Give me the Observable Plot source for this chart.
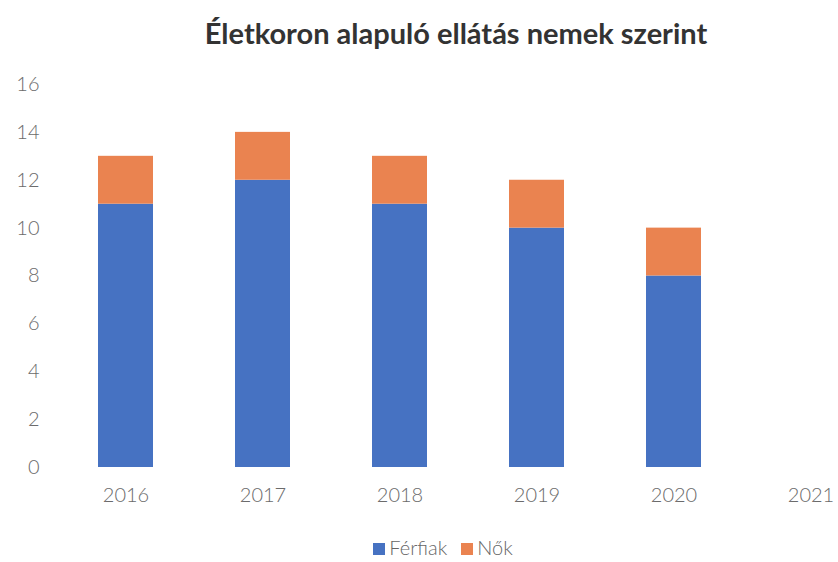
<!DOCTYPE html>
<html>
<head>
<meta charset="utf-8">
<script src="https://cdn.jsdelivr.net/npm/d3@7"></script>
<script src="https://cdn.jsdelivr.net/npm/@observablehq/plot@0.6"></script>
<style>
  html, body { margin: 0; padding: 0; background: #fff; width: 838px; height: 562px; overflow: hidden; }
  #title { position: absolute; left: 0; top: 0; width: 912px; height: 60px; text-align: center;
    font-family: Lato, "Open Sans", sans-serif; font-weight: bold; font-size: 29px; color: #333;
    line-height: 60px; padding-top: 3px; box-sizing: border-box; }
  #chart { position: absolute; left: 0; top: 60px; }
  #legend { position: absolute; left: 0; top: 535px; width: 886px; text-align: center;
    font-family: Lato, "Open Sans", sans-serif; font-weight: 300; font-size: 20px; color: #666; }
  .sw { display: inline-block; width: 12px; height: 12px; margin-right: 4px; vertical-align: 0px; }
  .item { margin: 0 7px; }
</style>
</head>
<body>
<div id="title">Életkoron alapuló ellátás nemek szerint</div>
<div id="chart"></div>
<div id="legend"></div>
<script>
const years = ["2016", "2017", "2018", "2019", "2020", "2021"];
const series = ["Férfiak", "Nők"];
const ferfiak = [11, 12, 11, 10, 8, null];
const nok = [2, 2, 2, 2, 2, null];
const yTicks = [0, 2, 4, 6, 8, 10, 12, 14, 16];
const colors = ["#4672C2", "#EA8350"];

const rows = [];
years.forEach((y, i) => { if (ferfiak[i] != null) rows.push({year: y, series: series[0], value: ferfiak[i]}); });
years.forEach((y, i) => { if (nok[i] != null) rows.push({year: y, series: series[1], value: nok[i]}); });

const chart = Plot.plot({
  width: 838,
  height: 462,
  marginTop: 24,
  marginBottom: 55,
  marginLeft: 55,
  marginRight: 0,
  style: { fontFamily: "Lato, 'Open Sans', sans-serif", fontSize: "20px", fontWeight: 300, color: "#6b6b6b", background: "#fff" },
  x: { domain: years, range: [55.25, 880.75], padding: 0.6, paddingOuter: 0.3, label: null },
  y: { domain: [0, 16], label: null },
  color: { domain: series, range: colors },
  marks: [
    Plot.barY(rows, { x: "year", y: "value", fill: "series" }),
    Plot.axisX({ tickSize: 0, tickPadding: 20, fontSize: 20, fill: "#6b6b6b" }),
    Plot.axisY({ ticks: yTicks, tickSize: 0, tickPadding: 16, fontSize: 20, fill: "#6b6b6b", tickFormat: d => String(d) })
  ]
});
document.getElementById("chart").appendChild(chart);

const legend = document.getElementById("legend");
series.forEach((s, i) => {
  const span = document.createElement("span");
  span.className = "item";
  span.innerHTML = `<span class="sw" style="background:${colors[i]}"></span>${s}`;
  legend.appendChild(span);
});
</script>
</body>
</html>
